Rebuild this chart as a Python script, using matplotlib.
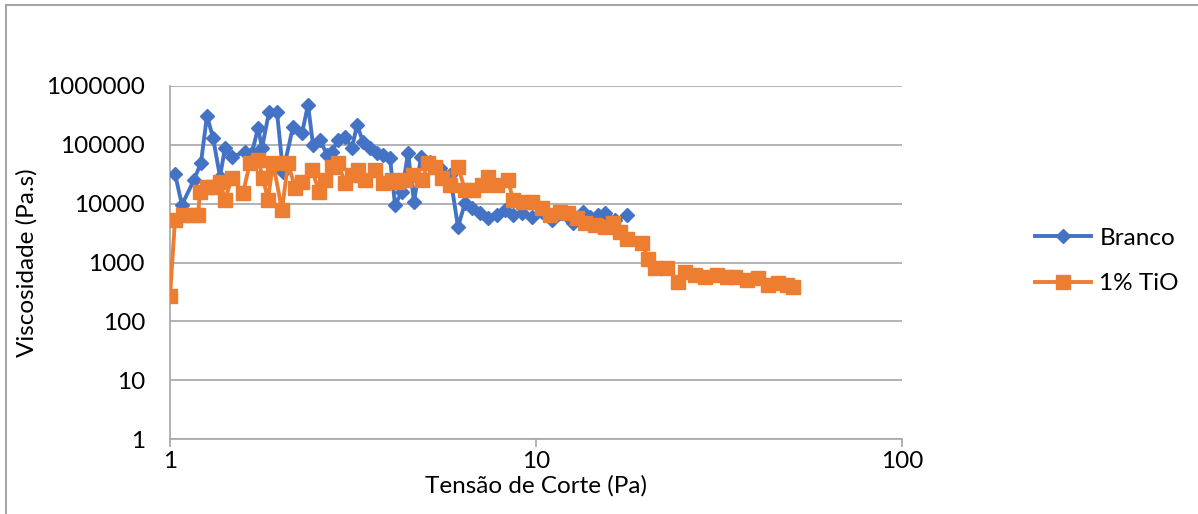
import matplotlib.pyplot as plt
import matplotlib.ticker as mticker
from matplotlib.patches import Rectangle

plt.rcParams['font.family'] = ['Lato', 'DejaVu Sans']

# Branco
tensao_branco = [1.032, 1.078, 1.163, 1.215, 1.262, 1.311, 1.370, 1.413, 1.477, 1.603,
                 1.675, 1.740, 1.784, 1.865, 1.960, 2.036, 2.168, 2.295, 2.383, 2.459,
                 2.570, 2.685, 2.771, 2.877, 3.007, 3.143, 3.244, 3.368, 3.520, 3.678,
                 3.819, 3.991, 4.120, 4.305, 4.470, 4.642, 4.851, 5.133, 5.467, 5.821,
                 6.122, 6.398, 6.686, 7.031, 7.393, 7.824, 8.229, 8.654, 9.157, 9.752,
                 10.38, 11.06, 11.63, 12.23, 12.62, 13.44, 14.05, 14.77, 15.44, 16.44,
                 17.73]
visc_branco = [32100, 9540, 25400, 49400, 311000, 131000, 28600, 88900, 62500, 76000,
               73100, 195000, 88900, 364000, 364000, 34800, 202000, 160000, 479000, 100000,
               122000, 67600, 76000, 122000, 137000, 88900, 219000, 112000, 88900, 73100,
               67600, 60100, 9540, 15900, 73100, 10700, 62500, 51400, 40600, 30900,
               4030, 10300, 8480, 6980, 5740, 6450, 7850, 6450, 6980, 5970,
               7260, 5300, 6980, 5970, 4710, 7260, 5970, 6450, 6980, 5300,
               6450]

# 1% TiO
tensao_tio = [1.0, 1.032, 1.085, 1.156, 1.193, 1.208, 1.262, 1.311, 1.370, 1.413,
              1.477, 1.583, 1.654, 1.740, 1.795, 1.852, 1.912, 2.023, 2.101, 2.196,
              2.295, 2.443, 2.554, 2.651, 2.771, 2.877, 3.007, 3.143, 3.264, 3.410,
              3.632, 3.819, 4.042, 4.198, 4.386, 4.613, 4.882, 5.070, 5.297, 5.536,
              5.821, 6.122, 6.398, 6.729, 7.120, 7.393, 7.824, 8.385, 8.654, 9.215,
              9.752, 10.38, 10.92, 11.63, 12.23, 12.94, 13.61, 14.50, 15.44, 16.23,
              16.97, 17.73, 19.48, 20.23, 21.14, 22.80, 24.43, 25.53, 27.20, 28.95,
              31.23, 33.25, 34.97, 37.72, 40.42, 43.04, 45.84, 48.51, 50.37]
visc_tio = [270, 5300, 6450, 6450, 6450, 15900, 19300, 19300, 23500, 11600,
            27500, 15300, 49400, 55000, 27500, 11600, 49400, 7850, 49400, 18600,
            23500, 37600, 15900, 25400, 42300, 49400, 22600, 30900, 37600, 25400,
            37600, 22600, 25400, 23500, 25400, 30900, 25400, 49400, 42300, 27500,
            20900, 42300, 17200, 17200, 20900, 28600, 20900, 25400, 11600, 10700,
            10700, 8480, 6450, 7260, 6980, 5740, 4710, 4360, 4030, 4710,
            3310, 2520, 2160, 1150, 810, 810, 468, 692, 615, 569,
            615, 569, 569, 506, 547, 416, 450, 416, 385]

azul = '#4472C4'
laranja = '#ED7D31'
cinza = '#a6a6a6'
fs = 17.5

fig = plt.figure(figsize=(11.98, 5.14), dpi=100)
ax = fig.add_axes([170/1198, 75/514, 732/1198, 353/514])

ax.plot(tensao_branco, visc_branco, color=azul, lw=2.8, marker='D', ms=7.2,
        label='Branco', zorder=3)
ax.plot(tensao_tio, visc_tio, color=laranja, lw=2.8, marker='s', ms=9.5,
        label='1% TiO', zorder=4)

ax.set_xscale('log')
ax.set_yscale('log')
ax.set_xlim(1, 100)
ax.set_ylim(1, 1000000)

ax.yaxis.set_major_locator(mticker.LogLocator(base=10, numticks=10))
ax.yaxis.set_minor_locator(mticker.NullLocator())
ax.xaxis.set_minor_locator(mticker.NullLocator())
ax.yaxis.set_major_formatter(mticker.FuncFormatter(lambda v, p: f'{v:.0f}'))
ax.xaxis.set_major_formatter(mticker.FuncFormatter(lambda v, p: f'{v:.0f}'))

ax.grid(axis='y', color=cinza, lw=1.2)
ax.set_axisbelow(True)
for s in ['top', 'right']:
    ax.spines[s].set_visible(False)
ax.spines['left'].set_color(cinza)
ax.spines['bottom'].set_color(cinza)
ax.spines['left'].set_linewidth(1.2)
ax.spines['bottom'].set_linewidth(1.2)
ax.tick_params(axis='y', length=0, pad=18, labelsize=fs)
ax.tick_params(axis='x', length=6, color=cinza, width=1.2, pad=3, labelsize=fs)

ax.set_xlabel('Tensão de Corte (Pa)', fontsize=fs, labelpad=2)
ax.set_ylabel('Viscosidade (Pa.s)', fontsize=fs, labelpad=6)

ax.legend(loc='center left', bbox_to_anchor=(1035/1198, 1 - 261/514),
          bbox_transform=fig.transFigure, frameon=False, borderpad=0,
          borderaxespad=0, fontsize=fs, handlelength=2.3, handletextpad=0.35,
          labelspacing=1.0)

fig.patches.append(Rectangle((6/1198, -0.1), 1.2, 1.1 - 5/514, transform=fig.transFigure,
                             fill=False, edgecolor=cinza, lw=1.5))

fig.savefig('out.png', dpi=100)
